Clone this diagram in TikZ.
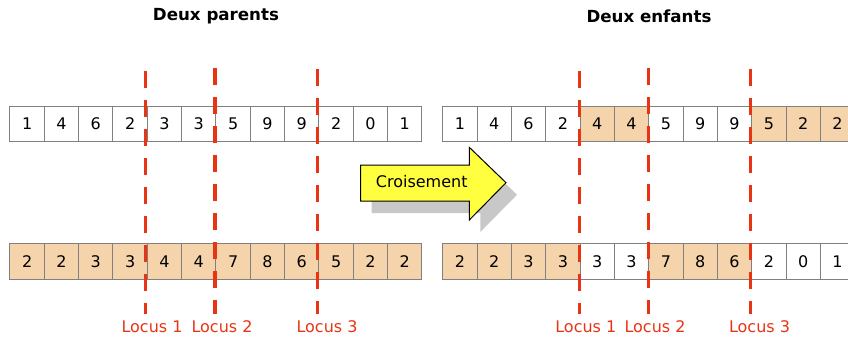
\documentclass[tikz,border=0pt]{standalone}
\usepackage{fontspec}
\setmainfont{DejaVu Sans}
\definecolor{locred}{RGB}{232,52,20}
\definecolor{peach}{RGB}{245,212,172}
\definecolor{jaune}{RGB}{255,255,64}
\definecolor{ombre}{RGB}{200,200,200}

\begin{document}
\begin{tikzpicture}[
  x=0.75pt, y=-0.75pt,
  cell/.style={draw=gray, line width=0.75pt, fill=white, inner sep=0pt,
    minimum width=25.75pt, minimum height=26.8pt, font=\fontsize{12}{14}\selectfont},
  locus/.style={draw=locred, line width=2.5pt, dash pattern=on 12.75pt off 9pt},
  loclab/.style={text=locred, font=\fontsize{12}{14}\selectfont},
  titre/.style={font=\fontsize{12.5}{15}\selectfont\bfseries}
]
  \clip (0,0) rectangle (848,340);

  % Titres
  \node[titre] (tp) at (216,16) {Deux parents};
  \node[titre] (te) at (649,16) {Deux enfants};

  % Deux parents
  \foreach \v [count=\i] in {1,4,6,2,3,3,5,9,9,2,0,1}
    \node[cell] (p1-\i) at ({10+34.33*(\i-0.5)},124) {\v};
  \foreach \v [count=\i] in {2,2,3,3,4,4,7,8,6,5,2,2}
    \node[cell, fill=peach] (p2-\i) at ({10+34.33*(\i-0.5)},261.7) {\v};

  % Deux enfants
  \foreach \v/\f [count=\i] in {1/white,4/white,6/white,2/white,4/peach,4/peach,
                                5/white,9/white,9/white,5/peach,2/peach,2/peach}
    \node[cell, fill=\f] (e1-\i) at ({442.7+34.33*(\i-0.5)},124) {\v};
  \foreach \v/\f [count=\i] in {2/peach,2/peach,3/peach,3/peach,3/white,3/white,
                                7/peach,8/peach,6/peach,2/white,0/white,1/white}
    \node[cell, fill=\f] (e2-\i) at ({442.7+34.33*(\i-0.5)},261.7) {\v};

  % Fleche
  \fill[ombre, shift={(11,12)}] (360.7,165) -- (469.3,165) -- (469.3,147.3) -- (506,182.7)
    -- (469.3,220) -- (469.3,201) -- (360.7,201) -- cycle;
  \draw[fill=jaune, line width=0.75pt] (360.7,165) -- (469.3,165) -- (469.3,147.3) -- (506,182.7)
    -- (469.3,220) -- (469.3,201) -- (360.7,201) -- cycle;
  \node[font=\fontsize{12}{14}\selectfont] (crois) at (421.7,182) {Croisement};

  % Points de coupure
  \foreach \n/\x/\y/\lx/\k in {1/145.7/71/152/1, 2/215/68/222/2, 3/317.3/69/327/3,
                               4/579.3/71/585.8/1, 5/648.3/68/655/2, 6/750.7/69/759.5/3} {
    \coordinate (h\n) at (\x,\y);
    \coordinate (b\n) at (\x,314);
    \draw[locus] (h\n) -- (b\n);
    \node[loclab] (lab\n) at (\lx,326.7) {Locus \k};
  }
\end{tikzpicture}
\end{document}
